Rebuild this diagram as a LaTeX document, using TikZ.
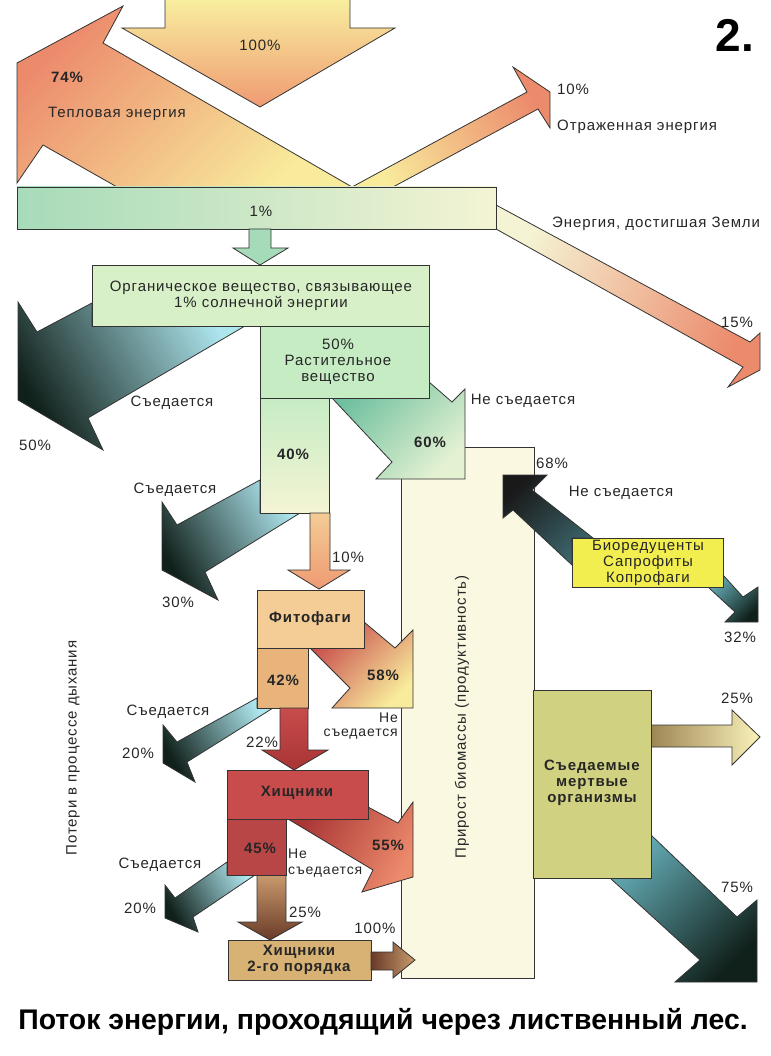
\documentclass[tikz,border=0pt]{standalone}
\usepackage{fontspec}
\setmainfont{Liberation Sans}
\newfontfamily\lblfam[LetterSpace=6]{Liberation Sans}
\definecolor{sunA}{HTML}{F8EE9E}
\definecolor{sunB}{HTML}{EF9A72}
\definecolor{heatA}{HTML}{EC8A6C}
\definecolor{heatB}{HTML}{F8EC9C}
\definecolor{barA}{HTML}{A6DBB9}
\definecolor{barB}{HTML}{F4F4D4}
\definecolor{eatA}{HTML}{AEE6EE}
\definecolor{eatB}{HTML}{10201A}
\definecolor{plantA}{HTML}{D8F0C8}
\definecolor{plantB}{HTML}{C6ECC4}
\definecolor{leftA}{HTML}{70C0A0}
\definecolor{leftB}{HTML}{E4F2D2}
\definecolor{phyto}{HTML}{F3CC96}
\definecolor{phytoB}{HTML}{E8B47C}
\definecolor{predA}{HTML}{C84C4C}
\definecolor{predB}{HTML}{A83434}
\definecolor{brownA}{HTML}{C89A6C}
\definecolor{brownB}{HTML}{6A3A28}
\definecolor{secnd}{HTML}{D8B274}
\definecolor{biom}{HTML}{FBF8E2}
\definecolor{redu}{HTML}{F2EE50}
\definecolor{dead}{HTML}{D0D282}
\definecolor{deadA}{HTML}{64AAB4}
\tikzset{
  outl/.style={draw=black!80, line width=0.8pt, line join=miter},
  lbl/.style={font=\lblfam\fontsize{15}{16}\selectfont, text=black!85, inner sep=0pt},
  blbl/.style={font=\lblfam\bfseries\fontsize{15}{16}\selectfont, text=black!85, inner sep=0pt},
}
\begin{document}
\begin{tikzpicture}[x=1pt,y=-1pt]
    \useasboundingbox (0,0) rectangle (770,1056);

    % 绘制太阳能箭头 100%
    \shade[top color=sunA, bottom color=sunB] (165,0) -- (350,0) -- (350,28) -- (395,28) -- (260,107) -- (122,28) -- (165,28) -- cycle;
    \draw[outl] (165,0) -- (165,28) -- (122,28) -- (260,107) -- (395,28) -- (350,28) -- (350,0);

    % 绘制热能、反射和到达地面的箭头
    \shadedraw[outl, top color=heatA, bottom color=heatB, shading angle=45] (117,187) -- (43,145) -- (17,183) -- (17,63) -- (123,6) -- (103,43) -- (352,187) -- cycle;
    \shadedraw[outl, top color=heatA, bottom color=heatB, shading angle=-62] (352,187) -- (527,92) -- (513,67) -- (550,92) -- (550,128) -- (538,109) -- (393,187) -- cycle;
    \shadedraw[outl, top color=barB, bottom color=heatA, shading angle=61] (496,205) -- (750,342) -- (760,333) -- (760,370) -- (728,387) -- (743,367) -- (496,229) -- cycle;

    % 绘制 1% 横条
    \shadedraw[outl, left color=barA, right color=barB] (17,187) rectangle (496,229);
    \filldraw[outl, fill=barA] (249,229) -- (271,229) -- (271,248) -- (288,248) -- (260,265) -- (233,248) -- (249,248) -- cycle;

    % 绘制有机物和“被吃掉”的箭头
    \shadedraw[outl, top color=eatA, bottom color=eatB, shading angle=-60] (92,303) -- (37,332) -- (18,302) -- (18,400) -- (103,450) -- (88,418) -- (245,326) -- (92,326) -- cycle;
    \filldraw[outl, fill=plantA] (92,265) rectangle (429,326);

    % 绘制生物量增长框
    \filldraw[outl, fill=biom] (401,447) rectangle (534,978);

    % 绘制植物物质和 60% 箭头
    \shadedraw[outl, top color=leftA, bottom color=leftB, shading angle=45] (429,382) -- (452,402) -- (465,389) -- (465,479) -- (376,479) -- (392,462) -- (332,398) -- (429,398) -- cycle;
    \filldraw[outl, fill=plantB] (260,326) rectangle (429,398);
    \shadedraw[outl, top color=eatA, bottom color=eatB, shading angle=-60] (260,480) -- (177,525) -- (162,502) -- (162,570) -- (218,600) -- (205,572) -- (300,513) -- (260,513) -- cycle;
    \shadedraw[outl, top color=plantB, bottom color=barB] (260,398) rectangle (329,513);

    % 绘制植食动物
    \shadedraw[outl, top color=phyto, bottom color=sunB] (310,513) -- (330,513) -- (330,570) -- (350,570) -- (319,589) -- (288,570) -- (310,570) -- cycle;
    \shadedraw[outl, top color=predA, bottom color=heatB, shading angle=45] (364,622) -- (395,648) -- (413,630) -- (413,708) -- (332,708) -- (350,688) -- (310,648) -- (364,648) -- cycle;
    \filldraw[outl, fill=phyto] (257,590) rectangle (364,648);
    \shadedraw[outl, top color=eatA, bottom color=eatB, shading angle=-60] (257,698) -- (177,742) -- (163,725) -- (163,763) -- (195,782) -- (187,762) -- (273,708) -- (257,708) -- cycle;
    \filldraw[outl, fill=phytoB] (257,648) rectangle (308,708);

    % 绘制捕食者
    \shadedraw[outl, top color=predA, bottom color=predB] (280,708) -- (308,708) -- (308,750) -- (328,750) -- (294,770) -- (262,750) -- (280,750) -- cycle;
    \shadedraw[outl, top color=predB, bottom color=heatA, shading angle=60] (368,807) -- (398,823) -- (413,802) -- (413,877) -- (362,892) -- (373,870) -- (288,819) -- (368,819) -- cycle;
    \filldraw[outl, fill=predA] (227,770) rectangle (368,819);
    \shadedraw[outl, top color=eatA, bottom color=eatB, shading angle=-60] (227,862) -- (175,898) -- (165,885) -- (165,918) -- (198,932) -- (193,917) -- (255,875) -- (227,875) -- cycle;
    \shadedraw[outl, top color=brownA, bottom color=brownB] (257,875) -- (286,875) -- (286,922) -- (302,922) -- (270,940) -- (238,922) -- (257,922) -- cycle;
    \filldraw[outl, fill=predA!92!black] (227,819) rectangle (286,875);

    % 绘制二级捕食者
    \filldraw[outl, fill=secnd] (228,940) rectangle (371,980);
    \shadedraw[outl, left color=brownB, right color=brownA] (371,952) -- (393,952) -- (393,942) -- (415,960) -- (393,978) -- (393,970) -- (371,970) -- cycle;

    % 绘制分解者
    \shadedraw[outl, top color=black!90, bottom color=deadA!60!black, shading angle=45] (503,475) -- (547,475) -- (532,490) -- (593,538) -- (572,538) -- (572,565) -- (513,510) -- (503,518) -- cycle;
    \shadedraw[outl, top color=deadA, bottom color=eatB, shading angle=45] (723,575) -- (743,597) -- (758,587) -- (758,622) -- (725,622) -- (735,612) -- (708,587) -- (723,587) -- cycle;
    \filldraw[outl, fill=redu] (572,538) rectangle (723,587);

    % 绘制死亡有机体
    \shadedraw[outl, top color=deadA, bottom color=eatB, shading angle=45] (651,835) -- (737,917) -- (757,900) -- (757,982) -- (675,982) -- (700,960) -- (610,878) -- (651,878) -- cycle;
    \shadedraw[outl, left color=brownB!50!dead, right color=heatB!70!white] (651,725) -- (732,725) -- (732,710) -- (760,737) -- (732,765) -- (732,747) -- (651,747) -- cycle;
    \filldraw[outl, fill=dead] (533,690) rectangle (651,878);

    % 标注文字
    \node (p100) [lbl] at (260,45) {100\%};
    \node (p74) [blbl] at (67,77) {74\%};
    \node (heat) [lbl] at (117,114) {Тепловая энергия};
    \node (p1) [lbl] at (261,211) {1\%};
    \node (p10) [lbl] at (573,89) {10\%};
    \node (refl) [lbl, anchor=west] at (557,127) {Отраженная энергия};
    \node (earth) [lbl, anchor=west] at (552,224) {Энергия, достигшая Земли};
    \node (p15) [lbl] at (737,322) {15\%};
    \node (org) [lbl, align=center] at (261,296) {Органическое вещество, связывающее\\1\% солнечной энергии};
    \node (plant) [lbl, align=center] at (338,362) {50\%\\Растительное\\вещество};
    \node (eat1) [lbl] at (172,403) {Съедается};
    \node (p50) [lbl] at (35,445) {50\%};
    \node (p40) [blbl] at (293,454) {40\%};
    \node (p60) [blbl] at (430,442) {60\%};
    \node (noeat1) [lbl] at (523,401) {Не съедается};
    \node (eat2) [lbl] at (175,490) {Съедается};
    \node (p30) [lbl] at (178,602) {30\%};
    \node (p10b) [lbl] at (348,557) {10\%};
    \node (p68) [lbl] at (552,463) {68\%};
    \node (noeat2) [lbl] at (621,493) {Не съедается};
    \node (redu) [lbl, align=center] at (648,563) {Биоредуценты\\Сапрофиты\\Копрофаги};
    \node (p32) [lbl] at (740,637) {32\%};
    \node (phyto) [blbl] at (310,619) {Фитофаги};
    \node (p42) [blbl] at (283,680) {42\%};
    \node (p58) [blbl] at (383,675) {58\%};
    \node (noeat3) [lbl, align=right, anchor=east, font=\lblfam\fontsize{14}{14}\selectfont] at (398,726) {Не\\съедается};
    \node (eat3) [lbl] at (168,712) {Съедается};
    \node (p20a) [lbl] at (138,753) {20\%};
    \node (p22) [lbl] at (262,742) {22\%};
    \node (pred) [blbl] at (297,793) {Хищники};
    \node (p45) [blbl] at (260,848) {45\%};
    \node (p55) [blbl] at (388,845) {55\%};
    \node (noeat4) [lbl, align=left, anchor=west, font=\lblfam\fontsize{14}{16}\selectfont] at (288,863) {Не\\съедается};
    \node (eat4) [lbl] at (160,865) {Съедается};
    \node (p20b) [lbl] at (140,908) {20\%};
    \node (p25) [lbl] at (305,912) {25\%};
    \node (p100b) [lbl] at (375,928) {100\%};
    \node (pred2) [blbl, align=center] at (299,960) {Хищники\\2-го порядка};
    \node (resp) [lbl, rotate=90] at (73,748) {Потери в процессе дыхания};
    \node (growth) [lbl, rotate=90] at (462,717) {Прирост биомассы (продуктивность)};
    \node (deadtxt) [blbl, align=center] at (592,783) {Съедаемые\\мертвые\\организмы};
    \node (p25b) [lbl] at (737,698) {25\%};
    \node (p75) [lbl] at (737,887) {75\%};

    % 标题
    \node (num) [font=\bfseries\fontsize{46}{46}\selectfont] at (735,35) {2.};
    \node (title) [font=\bfseries\fontsize{28.4}{30}\selectfont] at (383,1022) {Поток энергии, проходящий через лиственный лес.};
\end{tikzpicture}
\end{document}
